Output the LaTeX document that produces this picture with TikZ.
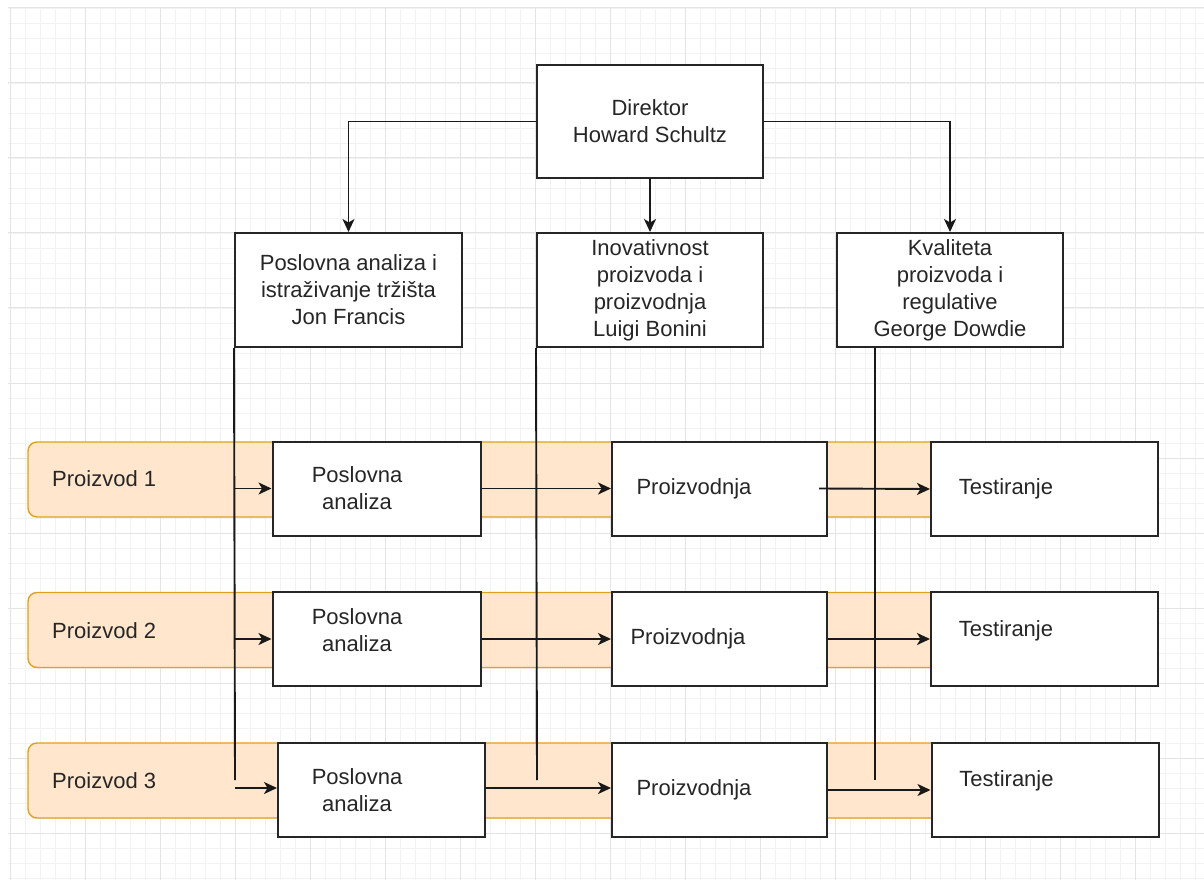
\documentclass[tikz,border=0pt]{standalone}
\usepackage{fontspec}
\setmainfont{Liberation Sans}
\usepackage{tikz}
\usetikzlibrary{arrows.meta}

\definecolor{laneFill}{HTML}{FFE6CC}
\definecolor{laneLine}{HTML}{E0A020}
\definecolor{gridMajor}{HTML}{E4E4E4}
\definecolor{gridMinor}{HTML}{F2F2F2}

\begin{document}
\begin{tikzpicture}[x=1pt, y=-1pt,
    txt/.style={font=\fontsize{22}{27}\selectfont, align=center, text=black!85},
    box/.style={txt, draw=black!85, line width=2pt, fill=white, inner sep=0pt},
    proc/.style={box, minimum height=94pt},
    lane/.style={draw=laneLine, fill=laneFill, line width=1.4pt, rounded corners=9pt,
        minimum width=972pt, minimum height=75pt, inner sep=0pt},
    conn/.style={line width=1.9pt, black!90},
    arr/.style={conn, -{Stealth[length=13pt, width=12pt, inset=3.5pt]}}]
    \useasboundingbox (0,0) rectangle (1204,882);
    % grid
    \foreach \x in {10,25,...,1200} \draw[gridMinor, line width=0.8pt] (\x,8) -- (\x,880);
    \foreach \y in {8,23,...,880} \draw[gridMinor, line width=0.8pt] (8,\y) -- (1204,\y);
    \foreach \x in {10,85,...,1200} \draw[gridMajor, line width=1pt] (\x,8) -- (\x,880);
    \foreach \y in {8,83,...,880} \draw[gridMajor, line width=1pt] (8,\y) -- (1204,\y);

    % product lanes
    \node[lane] (lane1) at (514,479.5) {};
    \node[lane] (lane2) at (514,630) {};
    \node[lane] (lane3) at (514,780.5) {};
    \node[txt, anchor=west, inner sep=0pt] (lab1) at (52,479) {Proizvod 1};
    \node[txt, anchor=west, inner sep=0pt] (lab2) at (52,631) {Proizvod 2};
    \node[txt, anchor=west, inner sep=0pt] (lab3) at (52,781) {Proizvod 3};

    % management
    \node[box, minimum width=226pt, minimum height=113pt] (dir) at (650,121.5) {Direktor\\Howard Schultz};
    \node[box, minimum width=227pt, minimum height=114pt] (mgrA) at (348.5,290) {Poslovna analiza i\\istraživanje tržišta\\Jon Francis};
    \node[box, minimum width=226pt, minimum height=114pt] (mgrB) at (650,290) {Inovativnost\\proizvoda i\\proizvodnja\\Luigi Bonini};
    \node[box, minimum width=226pt, minimum height=114pt] (mgrC) at (950,290) {Kvaliteta\\proizvoda i\\regulative\\George Dowdie};

    \draw[arr] (dir.west) -| (mgrA.north);
    \draw[arr] (dir.south) -- (mgrB.north);
    \draw[arr] (dir.east) -| (mgrC.north);

    \coordinate (endA) at (235,780);
    \coordinate (endB) at (537,780);
    \coordinate (endC) at (875,780);
    \draw[conn] (mgrA.south west) -- (endA);
    \draw[conn] (mgrB.south west) -- (endB);
    \draw[conn] (mgrC.south -| endC) -- (endC);

    % process steps
    \node[proc, minimum width=208pt, label={[txt, xshift=-19.5pt]center:Poslovna\\analiza}] (pa1) at (376.5,488.5) {};
    \node[proc, minimum width=215pt, label={[txt, xshift=-25.5pt]center:Proizvodnja}] (pr1) at (719.5,488.5) {};
    \node[proc, minimum width=227pt, label={[txt, xshift=-38.5pt]center:Testiranje}] (te1) at (1044.5,489) {};

    \node[proc, minimum width=208pt, label={[txt, xshift=-19.5pt, yshift=9pt]center:Poslovna\\analiza}] (pa2) at (376.5,639) {};
    \node[proc, minimum width=215pt, label={[txt, xshift=-31.5pt]center:Proizvodnja}] (pr2) at (719.5,639) {};
    \node[proc, minimum width=227pt, label={[txt, xshift=-38.5pt, yshift=8pt]center:Testiranje}] (te2) at (1044.5,639) {};

    \node[proc, minimum width=207pt, label={[txt, xshift=-24.5pt]center:Poslovna\\analiza}] (pa3) at (381.5,790) {};
    \node[proc, minimum width=215pt, label={[txt, xshift=-25.5pt]center:Proizvodnja}] (pr3) at (719.5,790) {};
    \node[proc, minimum width=227pt, label={[txt, xshift=-38.5pt, yshift=9pt]center:Testiranje}] (te3) at (1045,790) {};

    % flow
    \draw[arr] (pa1.west -| endA) -- (pa1.west);
    \draw[arr] (pa2.west -| endA) -- (pa2.west);
    \draw[arr] ([yshift=2pt]pa3.west -| endA) -- ([yshift=2pt]pa3.west);
    \draw[arr] (pa1.east) -- (pr1.west);
    \draw[arr] (pa2.east) -- (pr2.west);
    \draw[arr] ([yshift=2pt]pa3.east) -- ([yshift=2pt]pr3.west);
    \draw[arr] ([xshift=-9pt]pr1.east) -- (te1.west);
    \draw[arr] (pr2.east) -- (te2.west);
    \draw[arr] (pr3.east) -- (te3.west);
\end{tikzpicture}
\end{document}
